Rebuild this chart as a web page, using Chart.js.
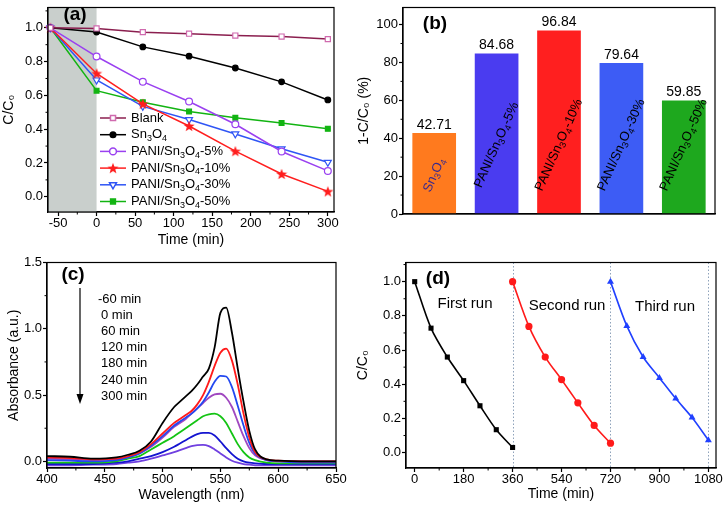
<!DOCTYPE html>
<html lang="en">
<head>
<meta charset="UTF-8">
<title>PANI/Sn3O4 photocatalytic degradation</title>
<script src="https://cdn.jsdelivr.net/npm/chart.js@4.4.0/dist/chart.umd.min.js"></script>
<style>
  body { margin: 0; background: #fff; }
  #fig { position: relative; width: 726px; height: 511px; overflow: hidden; }
  #fig canvas { position: absolute; }
</style>
</head>
<body>
<div id="fig">
  <canvas id="chartA" width="363" height="255" style="left:0;top:0;width:363px;height:255px"></canvas>
  <canvas id="chartC" width="363" height="256" style="left:0;top:255px;width:363px;height:256px"></canvas>
  <canvas id="chartB" width="376" height="255" style="left:350px;top:0;width:376px;height:255px"></canvas>
  <canvas id="chartD" width="376" height="256" style="left:350px;top:255px;width:376px;height:256px"></canvas>
</div>
<script>
// (a) kinetics, C/C0 vs time
const timeA = [-60, 0, 60, 120, 180, 240, 300];
const blank  = [1.0, 0.996, 0.974, 0.965, 0.954, 0.948, 0.933];
const sn3o4  = [1.0, 0.975, 0.887, 0.832, 0.762, 0.680, 0.573];
const pani5  = [1.0, 0.830, 0.681, 0.564, 0.429, 0.268, 0.153];
const pani10 = [1.0, 0.730, 0.550, 0.419, 0.270, 0.135, 0.032];
const pani30 = [1.0, 0.691, 0.535, 0.457, 0.372, 0.284, 0.204];
const pani50 = [1.0, 0.628, 0.560, 0.504, 0.467, 0.437, 0.402];
const namesA = ['Blank', 'Sn_3O_4', 'PANI/Sn_3O_4-5%', 'PANI/Sn_3O_4-10%', 'PANI/Sn_3O_4-30%', 'PANI/Sn_3O_4-50%'];

// (b) removal efficiency
const samples = ['Sn_3O_4', 'PANI/Sn_3O_4-5%', 'PANI/Sn_3O_4-10%', 'PANI/Sn_3O_4-30%', 'PANI/Sn_3O_4-50%'];
const removal = [42.71, 84.68, 96.84, 79.64, 59.85];

// (c) absorption spectra
const wavelength = [400, 420, 440, 460, 470, 480, 490, 500, 510, 515, 520, 525, 530, 535, 540, 545, 550, 555, 560, 565, 570, 575, 580, 590, 600, 620, 650];
const absM60 = [0.04, 0.035, 0.02, 0.03, 0.05, 0.08, 0.15, 0.29, 0.41, 0.45, 0.49, 0.53, 0.58, 0.64, 0.70, 0.86, 1.12, 1.16, 0.97, 0.70, 0.45, 0.23, 0.09, 0.015, 0.005, 0.0, 0.0];
const abs0   = [0.03, 0.025, 0.015, 0.02, 0.04, 0.07, 0.13, 0.21, 0.29, 0.32, 0.35, 0.38, 0.43, 0.50, 0.60, 0.72, 0.82, 0.85, 0.76, 0.58, 0.36, 0.18, 0.07, 0.015, 0.005, 0.0, 0.0];
const abs60  = [0.01, 0.005, 0.0, 0.01, 0.03, 0.06, 0.12, 0.19, 0.27, 0.30, 0.33, 0.36, 0.40, 0.45, 0.52, 0.60, 0.645, 0.64, 0.56, 0.42, 0.27, 0.14, 0.06, 0.01, 0.0, -0.01, -0.01];
const abs120 = [0.02, 0.015, 0.01, 0.015, 0.03, 0.06, 0.11, 0.18, 0.26, 0.29, 0.32, 0.36, 0.40, 0.44, 0.48, 0.505, 0.51, 0.48, 0.41, 0.30, 0.19, 0.10, 0.045, 0.01, 0.0, 0.0, 0.0];
const abs180 = [-0.01, -0.01, -0.01, 0.0, 0.02, 0.04, 0.09, 0.14, 0.19, 0.22, 0.25, 0.28, 0.31, 0.34, 0.355, 0.36, 0.34, 0.29, 0.21, 0.13, 0.07, 0.03, 0.01, -0.01, -0.015, -0.015, -0.015];
const abs240 = [-0.02, -0.02, -0.02, -0.01, 0.0, 0.02, 0.04, 0.07, 0.11, 0.135, 0.16, 0.185, 0.205, 0.215, 0.215, 0.195, 0.15, 0.10, 0.055, 0.02, 0.0, -0.01, -0.015, -0.02, -0.02, -0.02, -0.02];
const abs300 = [-0.03, -0.03, -0.025, -0.02, -0.01, 0.0, 0.02, 0.045, 0.07, 0.085, 0.10, 0.115, 0.123, 0.125, 0.115, 0.09, 0.06, 0.03, 0.005, -0.01, -0.02, -0.025, -0.03, -0.03, -0.03, -0.03, -0.03];
const timeLabels = ['-60 min', '0 min', '60 min', '120 min', '180 min', '240 min', '300 min'];

// (d) cycling runs
const run1Time = [0, 60, 120, 180, 240, 300, 360];
const run1 = [1.0, 0.728, 0.559, 0.421, 0.274, 0.134, 0.030];
const run2Time = [360, 420, 480, 540, 600, 660, 720];
const run2 = [1.0, 0.738, 0.559, 0.427, 0.291, 0.159, 0.055];
const run3Time = [720, 780, 840, 900, 960, 1020, 1080];
const run3 = [1.0, 0.741, 0.559, 0.437, 0.316, 0.205, 0.073];
const runNames = ['First run', 'Second run', 'Third run'];
const runEnds = [360, 720, 1080];

const FONT = '"Liberation Sans", Arial, sans-serif';
Chart.defaults.font.family = FONT;
Chart.defaults.font.size = 13;
Chart.defaults.color = '#000';

const plain = s => s.replace(/_(\d)/g, (m, d) => String.fromCharCode(0x2080 + +d));
const pairs = (xs, ys) => xs.map((x, i) => ({ x: x, y: ys[i] }));

// text with subscripts written as _3
function drawRich(ctx, s, x, y, size, align) {
  const parts = s.split(/(_\d)/).filter(p => p).map(p => p[0] === '_' ? [p.slice(1), true] : [p, false]);
  const fN = size + 'px ' + FONT, fS = Math.round(size * 0.7) + 'px ' + FONT;
  let w = 0;
  parts.forEach(([t, sub]) => { ctx.font = sub ? fS : fN; w += ctx.measureText(t).width; });
  let cx = align === 'center' ? x - w / 2 : x;
  ctx.textAlign = 'left';
  ctx.textBaseline = 'middle';
  parts.forEach(([t, sub]) => {
    ctx.font = sub ? fS : fN;
    ctx.fillText(t, cx, y + (sub ? size * 0.3 : 0));
    cx += ctx.measureText(t).width;
  });
}

function panelLabel(ctx, s, x, y) {
  ctx.font = 'bold 19px ' + FONT;
  ctx.textAlign = 'center';
  ctx.textBaseline = 'middle';
  ctx.fillStyle = '#000';
  ctx.fillText(s, x, y);
}

const frame = {
  id: 'frame',
  afterDraw(chart) {
    const a = chart.chartArea, ctx = chart.ctx;
    ctx.save();
    ctx.strokeStyle = '#000';
    ctx.lineWidth = 1.2;
    ctx.strokeRect(a.left, a.top, a.right - a.left, a.bottom - a.top);
    ctx.restore();
  }
};

function minorTicks(axes) {
  return {
    id: 'minorTicks',
    afterDraw(chart) {
      const ctx = chart.ctx;
      ctx.save();
      ctx.strokeStyle = '#000';
      ctx.lineWidth = 1;
      axes.forEach(id => {
        const s = chart.scales[id];
        const vals = s.ticks.map(t => t.value);
        if (vals.length < 2) return;
        const step = vals[1] - vals[0];
        for (let v = vals[0] - step / 2; v <= s.max; v += step) {
          if (v < s.min) continue;
          const p = s.getPixelForValue(v);
          ctx.beginPath();
          if (s.isHorizontal()) { ctx.moveTo(p, s.top); ctx.lineTo(p, s.top + 2.5); }
          else { ctx.moveTo(s.right, p); ctx.lineTo(s.right - 2.5, p); }
          ctx.stroke();
        }
      });
      ctx.restore();
    }
  };
}

function linAxis(o) {
  return {
    type: 'linear',
    min: o.min,
    max: o.max,
    afterFit: o.fit,
    border: { color: '#000', width: 1.2 },
    grid: { drawOnChartArea: false, tickLength: 4, color: '#000', tickWidth: 1.2 },
    ticks: {
      stepSize: o.step, includeBounds: false, autoSkip: false, maxRotation: 0,
      padding: 1, font: { size: 13, lineHeight: 1 },
      callback: o.fmt || (v => v)
    },
    title: o.title ? { display: true, text: o.title, font: { size: 14 }, padding: o.tpad } : { display: false }
  };
}

const baseOpts = (pad) => ({
  responsive: false,
  animation: false,
  layout: { padding: pad },
  plugins: { legend: { display: false }, tooltip: { enabled: false } }
});

// ---------- (a)
const starImg = (() => {
  const c = document.createElement('canvas');
  c.width = c.height = 12;
  const g = c.getContext('2d');
  g.fillStyle = '#ff1e1e';
  g.beginPath();
  for (let i = 0; i < 10; i++) {
    const r = i % 2 ? 2.4 : 5.8;
    const a = -Math.PI / 2 + i * Math.PI / 5;
    g.lineTo(6 + r * Math.cos(a), 6.5 + r * Math.sin(a));
  }
  g.closePath();
  g.fill();
  return c;
})();

const styleA = [
  { line: '#8b1f4f', pt: 'rect', r: 3.6, fill: '#fff', edge: '#d06aae', rot: 0 },
  { line: '#000000', pt: 'circle', r: 2.8, fill: '#000', edge: '#000', rot: 0 },
  { line: '#9a40f0', pt: 'circle', r: 3.4, fill: '#fff', edge: '#9a40f0', rot: 0 },
  { line: '#ff1e1e', pt: starImg, r: 5, fill: '#ff1e1e', edge: '#ff1e1e', rot: 0 },
  { line: '#2f55f5', pt: 'triangle', r: 4, fill: '#fff', edge: '#2f55f5', rot: 180 },
  { line: '#12b412', pt: 'rect', r: 3.4, fill: '#12b412', edge: '#12b412', rot: 0 }
];
const seriesA = [blank, sn3o4, pani5, pani10, pani30, pani50];

const extrasA = {
  id: 'extrasA',
  beforeDatasetsDraw(chart) {
    const a = chart.chartArea, x = chart.scales.x, ctx = chart.ctx;
    ctx.save();
    ctx.fillStyle = '#c9cfcc';
    ctx.fillRect(a.left, a.top, x.getPixelForValue(0) - a.left, a.bottom - a.top);
    ctx.restore();
  },
  afterDraw(chart) {
    const ctx = chart.ctx;
    ctx.save();
    namesA.forEach((name, i) => {
      const st = styleA[i], y = 118 + i * 16.7;
      ctx.strokeStyle = st.line;
      ctx.lineWidth = 1.5;
      ctx.beginPath(); ctx.moveTo(100, y); ctx.lineTo(126, y); ctx.stroke();
      ctx.fillStyle = st.fill;
      ctx.strokeStyle = st.edge;
      Chart.helpers.drawPoint(ctx, { pointStyle: st.pt, rotation: st.rot, radius: st.r, borderWidth: 1.2 }, 113, y);
      ctx.fillStyle = '#000';
      drawRich(ctx, name, 131, y, 13, 'left');
    });
    panelLabel(ctx, '(a)', 75, 15);
    ctx.restore();
  }
};

new Chart(document.getElementById('chartA'), {
  type: 'line',
  data: {
    datasets: seriesA.map((ys, i) => ({
      label: plain(namesA[i]),
      data: pairs(timeA, ys),
      borderColor: styleA[i].line,
      borderWidth: 1.5,
      pointStyle: styleA[i].pt,
      pointRotation: styleA[i].rot,
      pointRadius: styleA[i].r,
      pointBackgroundColor: styleA[i].fill,
      pointBorderColor: styleA[i].edge,
      pointBorderWidth: 1.2,
      tension: 0,
      clip: false
    }))
  },
  options: Object.assign(baseOpts({ top: 4, right: 29, left: 0, bottom: 0 }), {
    scales: {
      x: linAxis({ min: -63, max: 308, step: 50, fit: s => { s.height = 43; }, title: 'Time (min)', tpad: { bottom: 6 } }),
      y: linAxis({ min: -0.09, max: 1.12, step: 0.2, fmt: v => v.toFixed(1), fit: s => { s.width = 48; }, title: 'C/C\u2080', tpad: { top: 1 } })
    }
  }),
  plugins: [extrasA, frame, minorTicks(['x', 'y'])]
});

// ---------- (b)
const barColors = ['#ff7a1e', '#4a3cf0', '#ff1f1f', '#3d5cf5', '#1ea81e'];
const extrasB = {
  id: 'extrasB',
  afterDatasetsDraw(chart) {
    const ctx = chart.ctx, meta = chart.getDatasetMeta(0);
    ctx.save();
    meta.data.forEach((bar, i) => {
      ctx.fillStyle = '#000';
      ctx.font = '14px ' + FONT;
      ctx.textAlign = 'center';
      ctx.textBaseline = 'bottom';
      ctx.fillText(removal[i].toFixed(2), bar.x, bar.y - 1);
      ctx.save();
      ctx.translate(bar.x, i === 0 ? 175 : 145);
      ctx.rotate(-66 * Math.PI / 180);
      ctx.fillStyle = i === 0 ? '#3b2a8c' : '#000';
      drawRich(ctx, samples[i], 0, 0, 13, 'center');
      ctx.restore();
    });
    panelLabel(ctx, '(b)', 85, 24);
    ctx.restore();
  }
};

new Chart(document.getElementById('chartB'), {
  type: 'bar',
  data: {
    labels: samples.map(plain),
    datasets: [{ data: removal, backgroundColor: barColors, barPercentage: 0.7, categoryPercentage: 1 }]
  },
  options: Object.assign(baseOpts({ top: 4, right: 11, left: 0, bottom: 0 }), {
    scales: {
      x: {
        afterFit: s => { s.height = 41; },
        grid: { display: false },
        ticks: { display: false },
        border: { color: '#000', width: 1.2 }
      },
      y: linAxis({ min: 0, max: 109, step: 20, fit: s => { s.width = 53; }, title: '1-C/C\u2080 (%)', tpad: { top: 6 } })
    }
  }),
  plugins: [frame, minorTicks(['y']), extrasB]
});

// ---------- (c)
const spectra = [absM60, abs0, abs60, abs120, abs180, abs240, abs300];
const specColors = ['#000000', '#ff1a1a', '#2248f0', '#a048c0', '#14c414', '#1414d0', '#7040e0'];
const extrasC = {
  id: 'extrasC',
  afterDraw(chart) {
    const ctx = chart.ctx;
    ctx.save();
    ctx.strokeStyle = '#000';
    ctx.fillStyle = '#000';
    ctx.lineWidth = 1.2;
    ctx.beginPath(); ctx.moveTo(80, 33); ctx.lineTo(80, 142); ctx.stroke();
    ctx.beginPath(); ctx.moveTo(76.5, 139); ctx.lineTo(83.5, 139); ctx.lineTo(80, 149); ctx.closePath(); ctx.fill();
    ctx.font = '13px ' + FONT;
    ctx.textAlign = 'left';
    ctx.textBaseline = 'middle';
    timeLabels.forEach((t, i) => {
      ctx.fillText(t, i === 0 ? 98 : 101, 44 + i * 16.2);
    });
    panelLabel(ctx, '(c)', 73, 20);
    ctx.restore();
  }
};

new Chart(document.getElementById('chartC'), {
  type: 'line',
  data: {
    datasets: spectra.map((ys, i) => ({
      label: timeLabels[i],
      data: pairs(wavelength, ys),
      borderColor: specColors[i],
      borderWidth: 1.8,
      pointRadius: 0,
      cubicInterpolationMode: 'monotone'
    }))
  },
  options: Object.assign(baseOpts({ top: 5, right: 27, left: 0, bottom: 0 }), {
    scales: {
      x: linAxis({ min: 400, max: 650, step: 50, fit: s => { s.height = 43; }, title: 'Wavelength (nm)', tpad: { bottom: 7 } }),
      y: linAxis({ min: -0.05, max: 1.5, step: 0.5, fmt: v => v.toFixed(1), fit: s => { s.width = 47; }, title: 'Absorbance (a.u.)', tpad: { top: 6 } })
    }
  }),
  plugins: [frame, minorTicks(['x', 'y']), extrasC]
});

// ---------- (d)
const runColors = ['#000000', '#ff1a1a', '#2040ff'];
const runStyles = ['rect', 'circle', 'triangle'];
const runTextPos = [[115, 49], [217, 51], [315, 52]];
const extrasD = {
  id: 'extrasD',
  beforeDatasetsDraw(chart) {
    const a = chart.chartArea, x = chart.scales.x, ctx = chart.ctx;
    ctx.save();
    ctx.strokeStyle = '#8fa3bb';
    ctx.lineWidth = 1;
    ctx.setLineDash([1.5, 2]);
    runEnds.forEach(v => {
      const p = Math.round(x.getPixelForValue(v)) + 0.5;
      ctx.beginPath(); ctx.moveTo(p, a.top); ctx.lineTo(p, a.bottom); ctx.stroke();
    });
    ctx.restore();
  },
  afterDraw(chart) {
    const ctx = chart.ctx;
    ctx.save();
    ctx.fillStyle = '#000';
    ctx.font = '15px ' + FONT;
    ctx.textAlign = 'center';
    ctx.textBaseline = 'middle';
    runNames.forEach((t, i) => ctx.fillText(t, runTextPos[i][0], runTextPos[i][1]));
    panelLabel(ctx, '(d)', 88, 24);
    ctx.restore();
  }
};

new Chart(document.getElementById('chartD'), {
  type: 'line',
  data: {
    datasets: [[run1Time, run1], [run2Time, run2], [run3Time, run3]].map(([xs, ys], i) => ({
      label: runNames[i],
      data: pairs(xs, ys),
      borderColor: runColors[i],
      backgroundColor: runColors[i],
      borderWidth: 1.6,
      pointStyle: runStyles[i],
      pointRadius: i === 2 ? 4 : 3.6,
      pointBorderWidth: 0,
      tension: 0.3,
      clip: false
    }))
  },
  options: Object.assign(baseOpts({ top: 4, right: 10, left: 0, bottom: 0 }), {
    scales: {
      x: linAxis({ min: -32, max: 1108, step: 180, fit: s => { s.height = 43; }, title: 'Time (min)', tpad: { bottom: 8 } }),
      y: linAxis({ min: -0.09, max: 1.112, step: 0.2, fmt: v => v.toFixed(1), fit: s => { s.width = 56; }, title: 'C/C\u2080', tpad: { top: 5 } })
    }
  }),
  plugins: [extrasD, frame, minorTicks(['x', 'y'])]
});
</script>
</body>
</html>
